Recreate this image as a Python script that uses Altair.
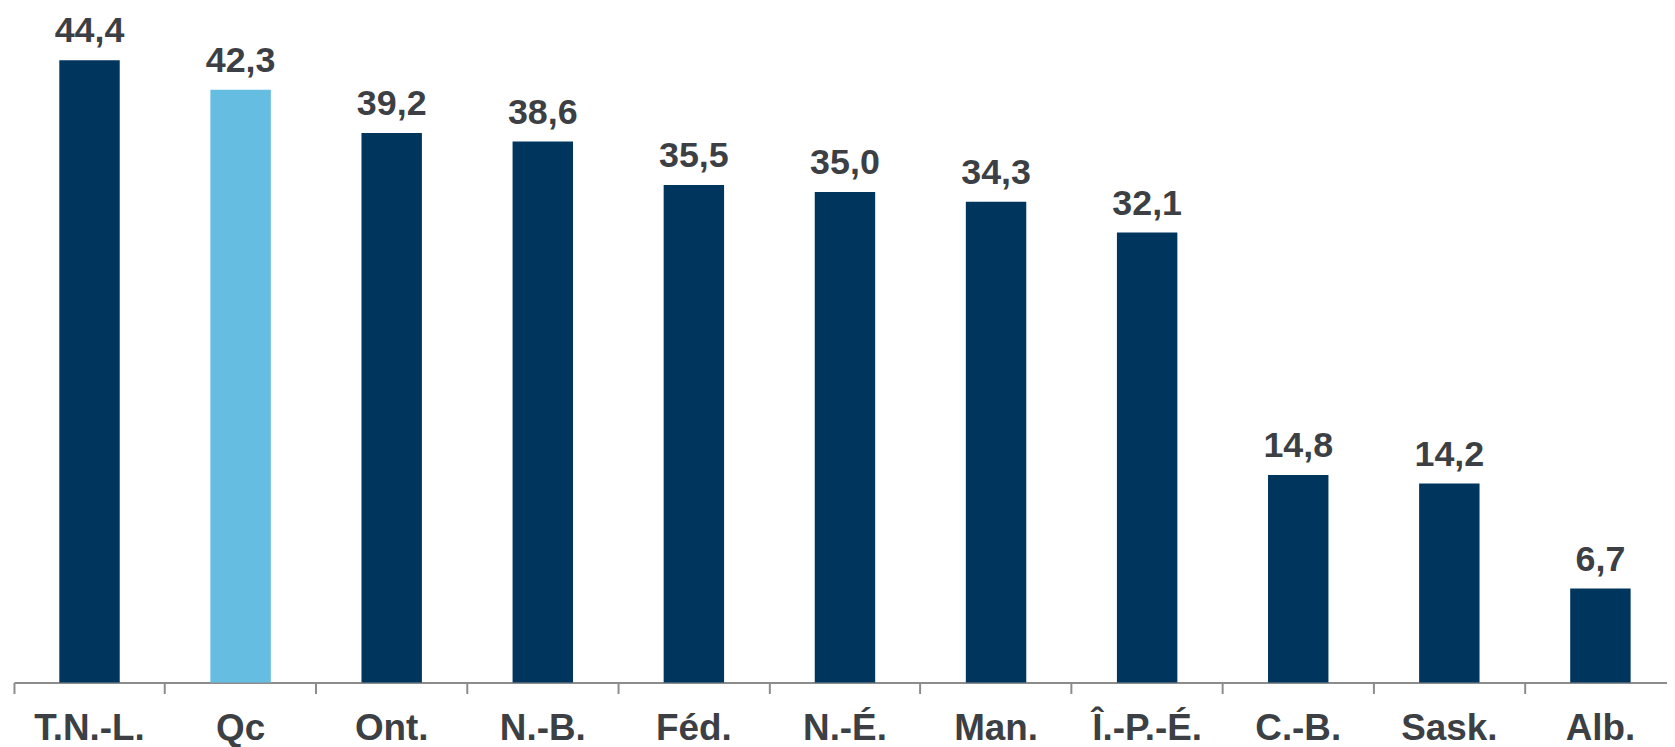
import altair as alt
import pandas as pd

categories = ["T.N.-L.", "Qc", "Ont.", "N.-B.", "Féd.", "N.-É.", "Man.", "Î.-P.-É.", "C.-B.", "Sask.", "Alb."]
values = [44.4, 42.3, 39.2, 38.6, 35.5, 35.0, 34.3, 32.1, 14.8, 14.2, 6.7]
highlight = ["no", "yes", "no", "no", "no", "no", "no", "no", "no", "no", "no"]

df = pd.DataFrame({
    "cat": categories,
    "val": values,
    "hl": highlight,
    "label": [f"{v:.1f}".replace(".", ",") for v in values],
})

FONT = "Liberation Sans"
TXT = "#3c3f44"

x = alt.X("cat:N", sort=categories, title=None,
          scale=alt.Scale(paddingInner=0, paddingOuter=0),
          axis=alt.Axis(labelAngle=0, labelFont=FONT, labelFontSize=37, labelFontWeight="bold",
                        labelColor=TXT, domainColor="#8c8c8c", domainWidth=2, tickColor="#8c8c8c",
                        tickWidth=2, tickSize=11, labelPadding=17, bandPosition=0, grid=False))
y = alt.Y("val:Q", scale=alt.Scale(domain=[0, 48.0], nice=False, zero=True), axis=None, title=None)

bars = alt.Chart(df).mark_bar(width=alt.RelativeBandSize(0.4)).encode(
    x=x, y=y,
    color=alt.Color("hl:N", scale=alt.Scale(domain=["no", "yes"], range=["#00365E", "#65BDE1"]), legend=None),
)
text = alt.Chart(df).mark_text(font=FONT, fontSize=36, fontWeight="bold", color=TXT,
                               baseline="alphabetic", dy=-18).encode(
    x=alt.X("cat:N", sort=categories), y=y, text="label:N")

chart = alt.layer(bars, text).properties(
    width=1670, height=676,
    autosize=alt.AutoSizeParams(type="none"),
    padding={"left": 6, "top": 0, "right": -9, "bottom": 63},
).configure_view(stroke=None)

chart.save("out.html", embed_options={"renderer": "svg", "actions": False})
